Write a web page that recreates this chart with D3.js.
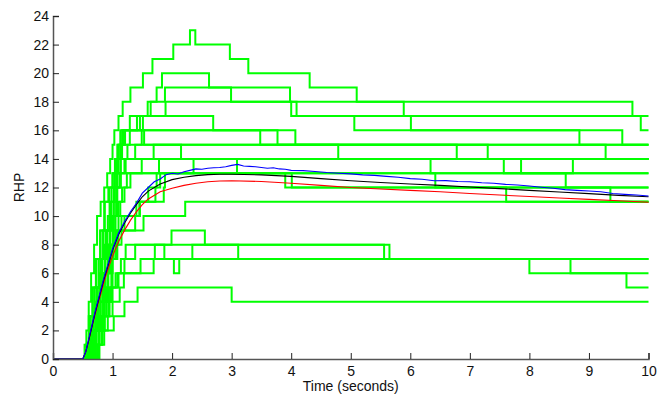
<!DOCTYPE html>
<html>
<head>
<meta charset="utf-8">
<script src="https://cdn.jsdelivr.net/npm/d3@7"></script>
<style>
  body { margin: 0; background: #fff; }
  svg { display: block; font-family: "Liberation Sans", Arial, sans-serif; }
</style>
</head>
<body>
<svg id="chart" width="659" height="398"></svg>
<script>
// stochastic runs: [time, RHP] change points, value holds until the next time
const run1 = [[0,0],[0.53,1],[0.56,2],[0.6,4],[0.64,6],[0.69,8],[0.74,10],[0.8,11],[0.86,12],[0.91,13],[0.96,14],[1.0,15],[1.03,16],[1.10,17],[1.17,18],[1.30,19],[1.51,20],[1.67,21],[2.02,22],[2.30,23],[2.39,22],[2.97,21],[3.28,20],[4.31,19],[5.10,18],[9.73,17],[9.87,16]];
const run2 = [[0,0],[0.55,1],[0.6,3],[0.66,5],[0.72,7],[0.79,9],[0.86,11],[0.93,12],[1.0,13],[1.05,14],[1.1,15],[1.18,16],[1.29,17],[1.59,18],[1.74,19],[1.83,20],[2.62,19],[2.99,18],[5.89,17]];
const run3 = [[0,0],[0.57,1],[0.63,3],[0.7,5],[0.77,7],[0.84,9],[0.92,10],[0.98,12],[1.04,13],[1.09,14],[1.14,15],[1.19,16],[1.51,17],[1.64,18],[1.88,19],[3.98,18],[4.00,17],[5.06,16],[9.56,15]];
const run4 = [[0,0],[0.6,1],[0.66,3],[0.73,5],[0.8,7],[0.88,9],[0.95,11],[1.02,12],[1.07,13],[1.1,14],[1.13,15],[1.16,16],[1.46,17],[2.69,16],[4.07,15],[4.79,14],[7.57,13]];
const run5 = [[0,0],[0.62,1],[0.68,3],[0.75,5],[0.82,7],[0.9,9],[0.97,11],[1.03,13],[1.07,14],[1.1,15],[1.21,16],[3.48,15],[6.78,14]];
const run6 = [[0,0],[0.64,2],[0.71,4],[0.79,6],[0.87,8],[0.95,10],[1.02,12],[1.08,13],[1.14,14],[1.25,15],[1.29,16],[3.77,15],[7.30,14]];
const run7 = [[0,0],[0.56,1],[0.61,3],[0.67,5],[0.73,7],[0.8,9],[0.87,11],[0.94,12],[1.0,13],[1.04,14],[1.08,15],[1.13,16],[1.41,17],[1.89,18],[4.09,17],[6.01,16],[8.84,15]];
const run8 = [[0,0],[0.66,1],[0.72,3],[0.8,5],[0.88,7],[0.96,9],[1.02,11],[1.07,13],[1.1,14],[1.16,15],[9.28,14]];
const run9 = [[0,0],[0.68,2],[0.76,4],[0.84,6],[0.92,8],[1.0,10],[1.07,12],[1.12,13],[1.2,14],[1.38,15],[1.49,16],[1.53,15]];
const run10 = [[0,0],[0.7,1],[0.77,3],[0.85,5],[0.93,7],[1.02,9],[1.1,11],[1.16,12],[1.24,13],[1.78,14],[6.34,13],[8.61,12]];
const run11 = [[0,0],[0.72,2],[0.8,4],[0.88,6],[0.97,8],[1.05,10],[1.13,11],[1.2,12],[1.3,13],[2.36,14],[3.09,13],[3.90,12],[7.61,11]];
const run12 = [[0,0],[0.74,1],[0.82,3],[0.9,5],[0.98,7],[1.06,8],[1.15,10],[1.4,11],[1.72,12],[1.74,13],[4.01,12],[9.36,11]];
const run13 = [[0,0],[0.76,2],[0.84,4],[0.92,6],[1.0,7],[1.08,9],[1.2,10],[1.45,11],[1.86,12],[1.88,13],[6.42,12]];
const run14 = [[0,0],[0.61,1],[0.68,3],[0.75,5],[0.83,7],[0.91,9],[0.99,10],[1.06,12],[1.12,13],[1.49,14],[7.86,13],[8.73,14]];
const run15 = [[0,0],[0.58,1],[0.66,2],[0.74,4],[0.83,6],[0.92,7],[1.0,8],[1.1,9],[1.52,10],[2.22,11]];
const run16 = [[0,0],[0.69,2],[0.77,4],[0.86,6],[0.94,8],[1.02,10],[1.08,12],[1.14,13],[1.22,14],[1.69,15],[2.15,14]];
const run17 = [[0,0],[0.7,1],[0.78,2],[0.87,4],[0.97,5],[1.05,6],[1.14,7],[1.22,8],[1.99,9],[2.55,8],[5.56,7],[8.0,6],[9.63,5]];
const run18 = [[0,0],[0.75,1],[0.83,2],[0.92,3],[1.0,5],[1.1,6],[1.2,7],[1.38,8],[5.65,7]];
const run19 = [[0,0],[0.58,1],[0.72,2],[0.84,3],[0.95,4],[1.12,5],[1.19,6],[1.47,7],[2.03,6],[2.12,7],[8.69,6]];
const run20 = [[0,0],[0.62,1],[0.7,2],[0.8,3],[0.9,4],[0.98,5],[1.08,6],[1.69,7],[1.71,8],[1.87,7],[2.34,8],[3.11,7]];
const run21 = [[0,0],[0.63,1],[0.78,2],[1.02,3],[1.2,4],[1.42,5],[3.0,4]];
const run22 = [[0,0],[0.78,1],[0.86,3],[0.94,5],[1.0,7],[1.06,9],[1.38,10],[1.46,11],[1.6,12],[1.8,13]];
const runs = [run1, run2, run3, run4, run5, run6, run7, run8, run9, run10, run11,
              run12, run13, run14, run15, run16, run17, run18, run19, run20, run21, run22];

// deterministic curves
const curveTime = [0,0.5,0.55,0.6,0.65,0.7,0.75,0.8,0.85,0.9,0.95,1.0,1.1,1.2,1.3,1.4,1.5,1.6,1.8,2.0,2.2,2.4,2.6,2.8,3.0,3.5,4.0,4.5,5.0,5.5,6.0,6.5,7.0,7.5,8.0,8.5,9.0,9.5,10];
const blackValues = [0,0,0.5,1.3,2.2,3.1,3.9,4.7,5.5,6.2,6.9,7.6,8.7,9.5,10.2,10.8,11.35,11.75,12.25,12.55,12.72,12.83,12.9,12.93,12.93,12.88,12.78,12.62,12.47,12.35,12.25,12.15,12.03,11.92,11.8,11.68,11.57,11.45,11.35];
const redValues =   [0,0,0.5,1.3,2.2,3.0,3.8,4.5,5.3,6.0,6.6,7.2,8.2,9.0,9.7,10.3,10.8,11.2,11.7,11.95,12.15,12.3,12.4,12.45,12.47,12.42,12.3,12.15,12.0,11.9,11.8,11.7,11.58,11.47,11.37,11.27,11.17,11.07,10.97];

// sample mean of the runs (noisy)
const meanTime = [0,0.5,0.55,0.6,0.65,0.7,0.75,0.8,0.85,0.9,0.95,1.0,1.1,1.2,1.3,1.4,1.5,1.6,1.7,1.8,1.9,2.0,2.1,2.2,2.3,2.4,2.5,2.6,2.7,2.8,2.9,3.0,3.1,3.2,3.3,3.4,3.5,3.6,3.7,3.8,3.9,4.0,4.2,4.4,4.6,4.8,5.0,5.2,5.4,5.6,5.8,6.0,6.2,6.4,6.6,6.8,7.0,7.2,7.4,7.6,7.8,8.0,8.2,8.4,8.6,8.8,9.0,9.2,9.4,9.6,9.8,10];
const meanValues = [0,0,0.5,1.4,2.3,3.2,4.0,4.8,5.6,6.3,7.0,7.7,8.8,9.6,10.3,10.9,11.6,12.0,12.4,12.6,12.9,13.0,12.95,13.1,13.2,13.3,13.28,13.35,13.38,13.4,13.45,13.55,13.62,13.5,13.48,13.45,13.4,13.35,13.38,13.3,13.28,13.2,13.18,13.12,13.05,13.0,12.95,12.88,12.85,12.78,12.72,12.62,12.58,12.47,12.48,12.42,12.4,12.33,12.3,12.22,12.18,12.1,12.02,11.95,11.85,11.8,11.75,11.7,11.58,11.52,11.47,11.4];

const xTicks = [0,1,2,3,4,5,6,7,8,9,10];
const yTicks = [0,2,4,6,8,10,12,14,16,18,20,22,24];

const svg = d3.select("#chart");
const x = d3.scaleLinear().domain([0, 10]).range([53, 648.5]);
const y = d3.scaleLinear().domain([0, 24]).range([359, 16]);

const plot = svg.append("g");

const stepLine = d3.line()
  .x(d => x(d[0]))
  .y(d => y(d[1]))
  .curve(d3.curveStepAfter);

plot.selectAll("path.run")
  .data(runs)
  .enter().append("path")
    .attr("class", "run")
    .attr("fill", "none")
    .attr("stroke", "#00ff00")
    .attr("stroke-width", 2)
    .attr("d", d => stepLine(d.concat([[10, d[d.length - 1][1]]])));

const smooth = d3.line()
  .x(d => x(d[0]))
  .y(d => y(d[1]));

function addCurve(ts, vs, color) {
  plot.append("path")
    .attr("fill", "none")
    .attr("stroke", color)
    .attr("stroke-width", 1.1)
    .attr("d", smooth(ts.map((t, i) => [t, vs[i]])));
}
addCurve(curveTime, redValues, "#ff0000");
addCurve(curveTime, blackValues, "#000000");
addCurve(meanTime, meanValues, "#0000ff");

// axes, MATLAB style: ticks inward, no box
const axisColor = "#555";
const xAxis = svg.append("g").attr("transform", `translate(0,${y(0)})`)
  .call(d3.axisBottom(x).tickValues(xTicks).tickSize(-6).tickPadding(7).tickFormat(d3.format("d")));
const yAxis = svg.append("g").attr("transform", `translate(${x(0)},0)`)
  .call(d3.axisLeft(y).tickValues(yTicks).tickSize(-6).tickPadding(4).tickFormat(d3.format("d")));

[xAxis, yAxis].forEach(g => {
  g.select(".domain").attr("stroke", axisColor).attr("stroke-width", 1.5);
  g.selectAll(".tick line").attr("stroke", "#222");
  g.selectAll(".tick text").attr("fill", "#111").style("font-size", "14px");
});

svg.append("text")
  .attr("x", x(5))
  .attr("y", 391)
  .attr("text-anchor", "middle")
  .style("font-size", "14px")
  .attr("fill", "#111")
  .text("Time (seconds)");

svg.append("text")
  .attr("transform", `translate(24,${y(12)}) rotate(-90)`)
  .attr("text-anchor", "middle")
  .style("font-size", "14px")
  .attr("fill", "#111")
  .text("RHP");
</script>
</body>
</html>
